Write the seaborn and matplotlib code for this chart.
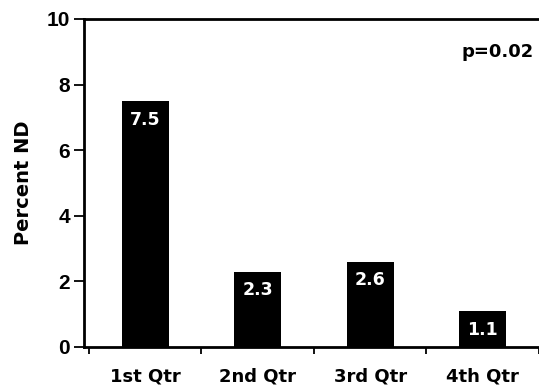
import matplotlib
matplotlib.use("Agg")
import matplotlib.pyplot as plt
import seaborn as sns
import pandas as pd
from matplotlib.ticker import FixedLocator

categories = ["1st Qtr", "2nd Qtr", "3rd Qtr", "4th Qtr"]
values = [7.5, 2.3, 2.6, 1.1]
value_labels = ["7.5", "2.3", "2.6", "1.1"]
y_ticks = [0, 2, 4, 6, 8, 10]
p_text = "p=0.02"
y_title = "Percent ND"

sns.set_style("white")
plt.rcParams["font.family"] = ["DejaVu Sans"]
plt.rcParams["text.color"] = "black"
plt.rcParams["axes.labelcolor"] = "black"
plt.rcParams["xtick.color"] = "black"
plt.rcParams["ytick.color"] = "black"

df = pd.DataFrame({"cat": categories, "val": values})

fig = plt.figure(figsize=(5.39, 3.89), dpi=100)
ax = fig.add_axes([84 / 539, 1 - 347 / 389, 1 - 84 / 539 + 0.01, (347 - 19) / 389])

sns.barplot(data=df, x="cat", y="val", color="black", width=0.42,
            edgecolor="black", linewidth=0, saturation=1, ax=ax)

ax.set_ylim(0, 10)
ax.set_xlim(-0.545, 3.55)
ax.set_yticks(y_ticks)
ax.set_yticklabels([str(t) for t in y_ticks], family="Liberation Sans",
                   fontweight="bold", fontsize=15, color="black")
ax.set_xticks(range(len(categories)))
ax.set_xticklabels(categories, fontweight="bold", fontsize=13, color="black")
ax.xaxis.set_minor_locator(FixedLocator([-0.5, 0.5, 1.5, 2.5, 3.5]))
ax.tick_params(axis="x", which="major", length=0, pad=15)
ax.tick_params(axis="x", which="minor", length=5, width=1.3, direction="out",
               bottom=True, pad=2, color="black")
ax.tick_params(axis="y", which="major", length=7, width=1.3, direction="out",
               left=True, pad=3, color="black")

ax.set_xlabel("")
ax.set_ylabel(y_title, fontweight="bold", fontsize=14, labelpad=10,
              color="black")

for s in ["left", "bottom", "top"]:
    ax.spines[s].set_visible(True)
    ax.spines[s].set_linewidth(2)
    ax.spines[s].set_color("black")
ax.spines["right"].set_visible(False)

for i, (v, lab) in enumerate(zip(values, value_labels)):
    ax.annotate(lab, xy=(i, v), xytext=(0, -7), textcoords="offset points",
                ha="center", va="top", color="white", fontweight="bold",
                fontsize=12.5)

ax.text(0.976, 0.9, p_text, transform=ax.transAxes, ha="right", va="center",
        fontweight="bold", fontsize=13, color="black")

fig.savefig("out.png", dpi=100)
